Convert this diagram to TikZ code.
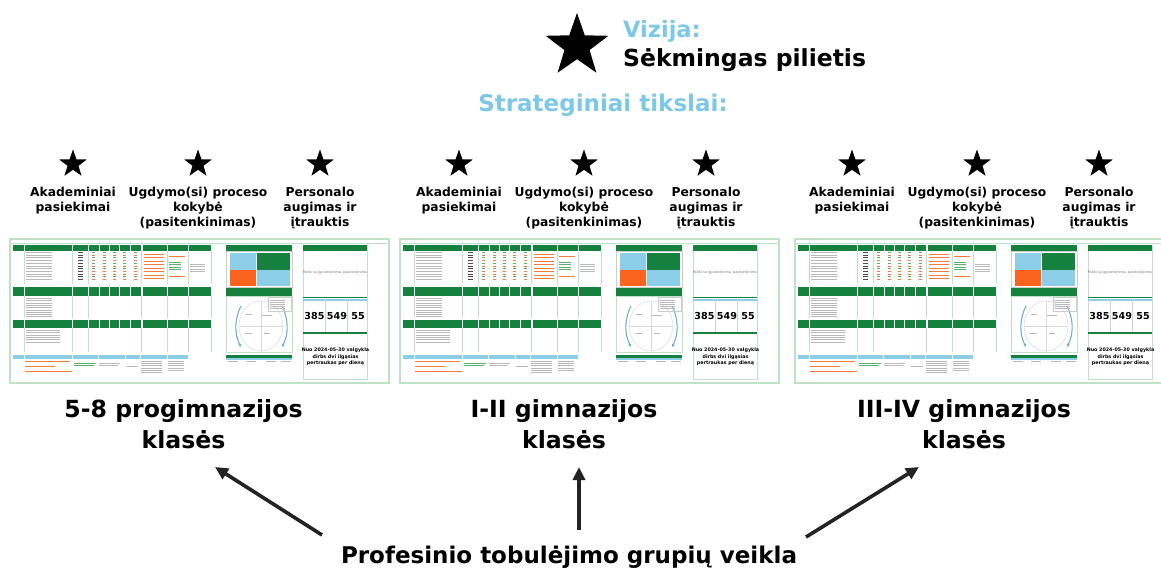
\documentclass[tikz,border=0pt]{standalone}
\usepackage{fontspec}
\setmainfont{DejaVu Sans}
\usetikzlibrary{shapes.geometric,arrows.meta}
\definecolor{skyb}{RGB}{125,200,230}
\definecolor{dgreen}{RGB}{22,128,62}
\definecolor{lgreen}{RGB}{190,225,200}
\definecolor{qblue}{RGB}{140,205,232}
\definecolor{cblue}{RGB}{110,175,215}
\definecolor{qorange}{RGB}{250,100,30}
\definecolor{torange}{RGB}{245,125,60}
\definecolor{tgreen}{RGB}{90,175,110}
\definecolor{tgray}{RGB}{185,185,185}
\definecolor{arrowc}{RGB}{35,35,35}
\tikzset{
  blackstar/.style={star, star points=5, star point ratio=2.5, fill=black, inner sep=0pt, minimum size=#1},
  goal/.style={font=\bfseries\fontsize{12.3}{15}\selectfont, align=center, anchor=north, inner sep=0pt},
  cls/.style={font=\bfseries\fontsize{23.6}{31}\selectfont, align=center, anchor=north, inner sep=0pt},
  bigarrow/.style={arrowc, line width=3.6pt, -{Triangle[length=13pt,width=12pt]}},
  hdr/.style={fill=dgreen},
  tline/.style={fill=tgray},
  cyc/.style={cblue, line width=1.1pt, -{Triangle[length=3pt,width=3pt]}},
}
\newcommand\dashboard[1]{%
\begin{scope}[shift={(#1,0)}]
  \draw[lgreen, line width=1.2pt] (10,239) rectangle (389,383);
  \draw[lgreen, line width=0.5pt] (10,243.5) -- (389,243.5);
  % left tables: headers
  \foreach \ya/\yb in {245/251, 287/296, 320/328}{
    \foreach \xa/\xb in {13/24,24.6/72,72.6/88,88.6/99,99.6/109,109.6/119,119.6/130,130.6/141,143/167,167.6/188,188.6/211}{
      \fill[hdr] (\xa,\ya) rectangle (\xb,\yb);
    }
  }
  \foreach \ya/\yb in {251/284, 296/318, 328/352}{
    \foreach \x in {24.3,72.3,88.3,141,167.3,188.3,211}{
      \draw[lgreen, line width=0.4pt] (\x,\ya) -- (\x,\yb);
    }
  }
  % table 1 body
  \foreach \y/\c in {252/tgreen,254.7/torange,257.4/tgreen,260.1/torange,262.8/tgreen,265.5/torange,268.2/tgreen,270.9/torange,273.6/torange,276.3/tgreen,279/torange}{
    \fill[tgray] (25.5,\y) rectangle (52,\y+0.8);
    \fill[black!70] (78,\y) rectangle (83,\y+0.8);
    \foreach \x in {92,102.5,112.5,123,134}{\fill[\c] (\x,\y) rectangle (\x+3,\y+0.8);}
  }
  \foreach \y in {253.5,256.5,260.5,264,267.5,271,274.5,277.5}{\fill[torange] (144,\y) rectangle (164,\y+1.1);}
  \fill[torange] (168.5,256) rectangle (185,257.1);
  \fill[torange] (168.5,276) rectangle (185,277.1);
  \foreach \y in {262,264.3,266.6,268.9}{\fill[tgreen] (168.5,\y) rectangle (181,\y+0.8);}
  \foreach \y in {264,266.3,268.6,270.9}{\fill[tline] (189.5,\y) rectangle (205,\y+0.8);}
  % table 2 body
  \foreach \y in {298,300.3,...,318}{\fill[tline] (25.5,\y) rectangle (52,\y+0.8);}
  % table 3 body
  \foreach \y in {330,332.3,...,342}{\fill[tline] (25.5,\y) rectangle (60,\y+0.8);}
  % bottom table
  \fill[qblue] (13,355) rectangle (188,358.5);
  \foreach \x in {24,72,98,125,140,167}{\draw[white, line width=0.5pt] (\x,355) -- (\x,358.5);}
  \fill[torange] (24.5,360.5) rectangle (70,361.7);
  \fill[torange] (24.5,365.5) rectangle (55,366.7);
  \fill[torange] (24.5,370.5) rectangle (72,371.7);
  \fill[tgreen] (74,362.5) rectangle (96,363.3);
  \fill[tgreen] (74,364.6) rectangle (94,365.4);
  \fill[tline] (99,362.5) rectangle (120,363.3);
  \fill[tline] (99,364.6) rectangle (118,365.4);
  \fill[tline] (126,365.5) rectangle (138,366.3);
  \foreach \y in {361,363.2,...,372}{\fill[tline] (141,\y) rectangle (162,\y+0.7);}
  \foreach \y in {361,363.2,...,370}{\fill[tline] (168,\y) rectangle (184,\y+0.7);}
  % middle section
  \fill[hdr] (226,245) rectangle (292,250.5);
  \draw[black!20, line width=0.4pt] (226,251) rectangle (292,287);
  \fill[qblue] (229.5,253) rectangle (256,269.5);
  \fill[dgreen] (256.5,253) rectangle (290,269.5);
  \fill[qorange] (229.5,270) rectangle (256,286);
  \fill[qblue] (256.5,270) rectangle (290,286);
  \fill[hdr] (226,288) rectangle (292,295.5);
  \draw[lgreen, line width=0.6pt] (226,296.5) rectangle (292,352.5);
  \draw[black!15, line width=0.5pt] (261,326) ellipse [x radius=22, y radius=25];
  \draw[black!15, line width=0.5pt] (239,326) -- (283,326) (261,301) -- (261,351);
  \draw[cyc] (241,306) arc[start angle=207.4, end angle=152.6, radius=44.5];
  \draw[cyc] (282,306) arc[start angle=-27.4, end angle=27.4, radius=44.5];
  \draw[black!20, line width=0.3pt] (268,297.5) rectangle (291,311);
  \foreach \y in {299.5,301.7,...,310}{\fill[tline] (269.5,\y) rectangle (285,\y+0.6);}
  \fill[tline] (246,314) rectangle (252,314.8);
  \fill[tline] (262,314.5) rectangle (272,315.3);
  \fill[tline] (245,332.5) rectangle (252,333.3);
  \fill[tline] (264,333) rectangle (270,333.8);
  \fill[dgreen] (226,355) rectangle (292,357.5);
  \fill[qblue] (226,358) rectangle (292,359.6);
  \foreach \x in {228,246,266,281}{\fill[tline] (\x,360.5) rectangle (\x+10,361.2);}
  % right section
  \draw[lgreen, line width=0.6pt] (303,245) rectangle (367,379);
  \fill[hdr] (303,245) rectangle (367,250.5);
  \node[font=\fontsize{3.4}{4}\selectfont, text=black!55, inner sep=0pt] (pat) at (335,273) {Patiki su įgyvendinimu, pasitenkinimu};
  \fill[dgreen] (303,296.5) rectangle (367,298.2);
  \fill[qblue] (303,298.6) rectangle (367,301);
  \foreach \x in {325,347}{\draw[lgreen, line width=0.5pt] (\x,298.6) -- (\x,331.5);}
  \node[font=\bfseries\fontsize{9.6}{12}\selectfont, inner sep=0pt] (n1) at (314.5,316) {385};
  \node[font=\bfseries\fontsize{9.6}{12}\selectfont, inner sep=0pt] (n2) at (337,316) {549};
  \node[font=\bfseries\fontsize{9.6}{12}\selectfont, inner sep=0pt] (n3) at (358,316) {55};
  \fill[dgreen] (303,331.5) rectangle (367,333.5);
  \node[font=\bfseries\fontsize{4.8}{6.6}\selectfont, align=center, inner sep=0pt] (nuo) at (335.5,357) {Nuo 2024-05-30 valgykla\\dirbs dvi ilgąsias\\pertraukas per dieną};
\end{scope}}

\begin{document}
\begin{tikzpicture}[x=1pt, y=-1pt]
\useasboundingbox (0,0) rectangle (1161,572);
\clip (0,0) rectangle (1161,572);

% vision
\node[blackstar=66pt] (vstar) at (577,46) {};
\node[anchor=base west, inner sep=0pt, text=skyb, font=\bfseries\fontsize{22.5}{26}\selectfont] (viz) at (623,38) {Vizija:};
\node[anchor=base west, inner sep=0pt, font=\bfseries\fontsize{23.5}{28}\selectfont] (sek) at (623,67) {Sėkmingas pilietis};
\node[anchor=base, inner sep=0pt, text=skyb, font=\bfseries\fontsize{23}{28}\selectfont] (str) at (603,112) {Strateginiai tikslai:};

% goals
\foreach \gx [count=\g] in {0,386,779}{
  \node[blackstar=29pt] (s1-\g) at (73+\gx,164) {};
  \node[blackstar=29pt] (s2-\g) at (198+\gx,164) {};
  \node[blackstar=29pt] (s3-\g) at (320+\gx,164) {};
  \node[goal] (g1-\g) at (73+\gx,186.5) {Akademiniai\\pasiekimai};
  \node[goal] (g2-\g) at (198+\gx,186.5) {Ugdymo(si) proceso\\kokybė\\(pasitenkinimas)};
  \node[goal] (g3-\g) at (320+\gx,186.5) {Personalo\\augimas ir\\įtrauktis};
}

% dashboards
\dashboard{0}
\dashboard{390}
\dashboard{785}

% class labels
\node[cls] (c1) at (183.5,399) {5-8 progimnazijos\\klasės};
\node[cls] (c2) at (564,399) {I-II gimnazijos\\klasės};
\node[cls] (c3) at (964,399) {III-IV gimnazijos\\klasės};

\node[font=\bfseries\fontsize{23}{28}\selectfont, inner sep=0pt] (prof) at (569,557) {Profesinio tobulėjimo grupių veikla};

\coordinate (a1s) at (322,535);
\coordinate (a1e) at (215,467);
\coordinate (a2s) at (579,530);
\coordinate (a2e) at (579,467);
\coordinate (a3s) at (806,537);
\coordinate (a3e) at (919,467);
\draw[bigarrow] (a1s) -- (a1e);
\draw[bigarrow] (a2s) -- (a2e);
\draw[bigarrow] (a3s) -- (a3e);
\end{tikzpicture}
\end{document}
